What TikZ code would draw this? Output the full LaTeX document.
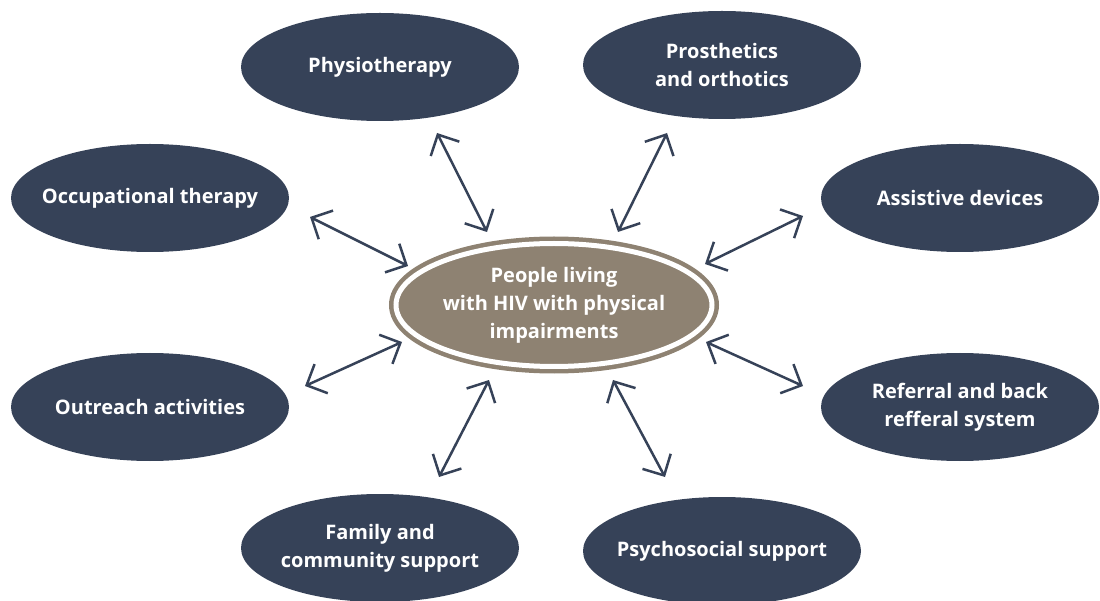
\documentclass[tikz,border=0pt]{standalone}
\usepackage{fontspec}
\setmainfont{Open Sans}
\usepackage{xcolor}
\usetikzlibrary{shapes.geometric,arrows.meta}

\definecolor{navy}{HTML}{364258}
\definecolor{taupe}{HTML}{8E8272}

\begin{document}
\begin{tikzpicture}[x=1pt,y=-1pt,
    service/.style={ellipse,fill=navy,minimum width=278pt,minimum height=108pt,
      inner xsep=-20pt,inner ysep=0pt,
      text=white,align=center,font=\bfseries\fontsize{20}{28}\selectfont},
    hub/.style={ellipse,fill=taupe,draw=taupe,line width=4.5pt,double=white,double distance=5pt,
      minimum width=316pt,minimum height=123pt,inner xsep=-20pt,inner ysep=0pt,
      text=white,align=center,font=\bfseries\fontsize{20}{28}\selectfont},
    link/.style={{Straight Barb[length=16pt,width=32pt]}-{Straight Barb[length=16pt,width=32pt]},
      draw=navy,line width=2.5pt}]
  \useasboundingbox (0,0) rectangle (1100,601);
  % centre
  \node[hub] (people) at (554,305) {People living\\with HIV with physical\\impairments};
  % services round it
  \node[service] (physio) at (380,67) {Physiotherapy};
  \node[service] (prosth) at (722,65) {Prosthetics\\and orthotics};
  \node[service] (occup) at (150,198) {Occupational therapy};
  \node[service] (assist) at (960,198) {Assistive devices};
  \node[service] (outreach) at (150,407) {Outreach activities};
  \node[service] (referral) at (960,407) {Referral and back\\refferal system};
  \node[service] (family) at (380,548) {Family and\\community support};
  \node[service] (psycho) at (722,551) {Psychosocial support};
  % arrow ends
  \coordinate (physio-a) at (437,133);   \coordinate (physio-b) at (487,232);
  \coordinate (prosth-a) at (667,133);   \coordinate (prosth-b) at (618,232);
  \coordinate (occup-a) at (310,217);    \coordinate (occup-b) at (408,266);
  \coordinate (assist-a) at (803,216);   \coordinate (assist-b) at (705,264);
  \coordinate (outreach-a) at (305,386); \coordinate (outreach-b) at (402,342);
  \coordinate (referral-a) at (803,386); \coordinate (referral-b) at (706,342);
  \coordinate (family-a) at (439,477);   \coordinate (family-b) at (489,380);
  \coordinate (psycho-a) at (665,477);   \coordinate (psycho-b) at (613,380);
  \foreach \s in {physio,prosth,occup,assist,outreach,referral,family,psycho}
    \draw[link] (\s-a) -- (\s-b);
\end{tikzpicture}
\end{document}
